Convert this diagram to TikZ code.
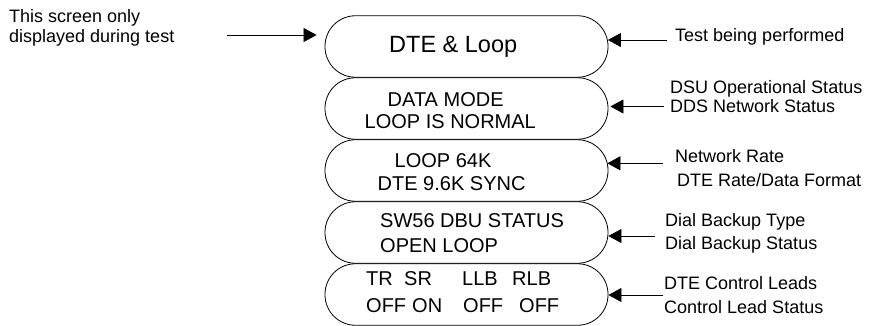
\documentclass[tikz,border=0pt]{standalone}
\usepackage{fontspec}
\setmainfont{Liberation Sans}
\usetikzlibrary{arrows.meta}

\begin{document}
\begin{tikzpicture}[x=1pt,y=-1pt,
  screen/.style={draw, line width=0.8pt, rounded corners=30.5pt,
    minimum width=283pt, minimum height=61.5pt, inner sep=0pt},
  lcd/.style={anchor=base west, inner sep=0pt, font=\fontsize{20}{24}\selectfont},
  note/.style={anchor=base west, inner sep=0pt, font=\fontsize{18}{21}\selectfont},
  pointer/.style={line width=0.7pt, -{Triangle[length=13pt,width=14pt]}}
]
\useasboundingbox (0,0) rectangle (874,326);

% stacked display screens
\node[screen] (b1) at (466.5,46.5) {};
\node[screen] (b2) at (466.5,108.5) {};
\node[screen] (b3) at (466.5,170.5) {};
\node[screen] (b4) at (466.5,232.5) {};
\node[screen] (b5) at (466.5,294.5) {};

% screen contents
\node[lcd, font=\fontsize{23.5}{28}\selectfont] (t1) at (389,53) {DTE \& Loop};
\node[lcd] (t2a) at (387.5,106.7) {DATA MODE};
\node[lcd] (t2b) at (364.5,128.8) {LOOP IS NORMAL};
\node[lcd] (t3a) at (394.5,167.5) {LOOP 64K};
\node[lcd] (t3b) at (377.5,190.3) {DTE 9.6K SYNC};
\node[lcd] (t4a) at (380,227) {SW56 DBU STATUS};
\node[lcd] (t4b) at (380,252) {OPEN LOOP};
\node[lcd] (t5a) at (366,285) {TR};
\node[lcd] (t5b) at (404,285) {SR};
\node[lcd] (t5c) at (462,285) {LLB};
\node[lcd] (t5d) at (512,285) {RLB};
\node[lcd] (t5e) at (366,312) {OFF};
\node[lcd] (t5f) at (412,312) {ON};
\node[lcd] (t5g) at (463,312) {OFF};
\node[lcd] (t5h) at (519,312) {OFF};

% left annotation
\node[note] (n0a) at (9,23) {This screen only};
\node[note] (n0b) at (9,43) {displayed during test};
\coordinate (s0) at (227,35);
\draw[pointer, shorten >=8pt] (s0) -- (s0 -| b1.west);

% right annotations
\node[note] (n1) at (675,42) {Test being performed};
\coordinate (s1) at (667,40);
\draw[pointer, shorten >=-0.5pt] (s1) -- (s1 -| b1.east);

\node[note] (n2a) at (670,94) {DSU Operational Status};
\node[note] (n2b) at (670,112.3) {DDS Network Status};
\coordinate (s2) at (664,106.5);
\draw[pointer, shorten >=2pt] (s2) -- (s2 -| b2.east);

\node[note] (n3a) at (675,162) {Network Rate};
\node[note] (n3b) at (677,186) {DTE Rate/Data Format};
\coordinate (s3) at (663,163.3);
\draw[pointer, shorten >=-1pt] (s3) -- (s3 -| b3.east);

\node[note] (n4a) at (665,226.5) {Dial Backup Type};
\node[note] (n4b) at (665,249) {Dial Backup Status};
\coordinate (s4) at (655,236);
\draw[pointer] (s4) -- (s4 -| b4.east);

\node[note] (n5a) at (664,289) {DTE Control Leads};
\node[note] (n5b) at (664,313.5) {Control Lead Status};
\coordinate (s5) at (663,295);
\draw[pointer] (s5) -- (s5 -| b5.east);
\end{tikzpicture}
\end{document}
